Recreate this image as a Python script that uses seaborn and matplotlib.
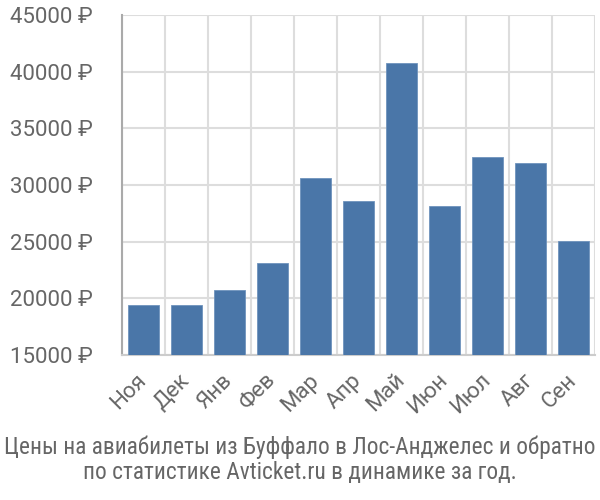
import numpy as np
import pandas as pd
import matplotlib
matplotlib.use("Agg")
import matplotlib.pyplot as plt
from matplotlib import font_manager
import seaborn as sns

# Данные
months = ["Ноя", "Дек", "Янв", "Фев", "Мар", "Апр", "Май", "Июн", "Июл", "Авг", "Сен"]
prices = [19400, 19400, 20700, 23100, 30600, 28600, 40800, 28150, 32500, 31900, 25050]
y_ticks = [15000, 20000, 25000, 30000, 35000, 40000, 45000]
caption = ("Цены на авиабилеты из Буффало в Лос-Анджелес и обратно\n"
           "по статистике Avticket.ru в динамике за год.")

sns.set_style("white")
plt.rcParams["font.family"] = ["Roboto", "DejaVu Sans"]

# узкий шрифт для подписи, если есть
installed = {f.name for f in font_manager.fontManager.ttflist}
narrow = [f for f in ["Liberation Sans Narrow", "Roboto Condensed", "Arimo Narrow",
                      "PT Sans Narrow", "Archivo Narrow", "Pragati Narrow",
                      "Open Sans Condensed"] if f in installed]
caption_family = narrow[:1] + ["Roboto", "DejaVu Sans"]

text_color = "#666666"
grid_color = "#dddddd"
axis_color = "#aaaaaa"

df = pd.DataFrame({"month": months, "price": prices})

fig = plt.figure(figsize=(6, 5), dpi=100)
ax = fig.add_axes([0.203, 0.29, 0.789, 0.68])

sns.barplot(data=df, x="month", y="price", color="#4a76a8", saturation=1,
            width=0.72, edgecolor="#6f93bd", linewidth=0.6, ax=ax, zorder=3)

ax.set_ylim(y_ticks[0], y_ticks[-1])
ax.set_xlim(-0.5, len(months) - 0.5)
ax.set_yticks(y_ticks)
ax.set_yticklabels([f"{v} ₽" for v in y_ticks])
ax.set_xlabel("")
ax.set_ylabel("")

# сетка: горизонтальная по делениям, вертикальная по границам категорий
ax.set_xticks(np.arange(-0.5, len(months), 1), minor=True)
ax.grid(axis="y", color=grid_color, linewidth=1.5, zorder=0)
ax.grid(axis="x", which="minor", color=grid_color, linewidth=1.5, zorder=0)
ax.set_axisbelow(True)

ax.tick_params(axis="x", which="major", length=0, pad=16, labelsize=16,
               labelcolor=text_color)
ax.tick_params(axis="x", which="minor", length=20, width=1.5, color=grid_color)
ax.tick_params(axis="y", length=7, width=1.5, color=grid_color, pad=14,
               labelsize=16, labelcolor=text_color)
for lbl in ax.get_xticklabels():
    lbl.set_rotation(45)
    lbl.set_ha("right")
    lbl.set_va("center")
    lbl.set_rotation_mode("anchor")

for side in ["top", "right"]:
    ax.spines[side].set_visible(False)
ax.spines["left"].set_color(axis_color)
ax.spines["left"].set_linewidth(1.5)
ax.spines["bottom"].set_color("#cccccc")
ax.spines["bottom"].set_linewidth(1.5)

fig.text(0.5, 0.08, caption, ha="center", va="center", fontsize=16.8,
         color=text_color, linespacing=1.12, family=caption_family)

fig.savefig("out.png", dpi=100)
plt.close(fig)
